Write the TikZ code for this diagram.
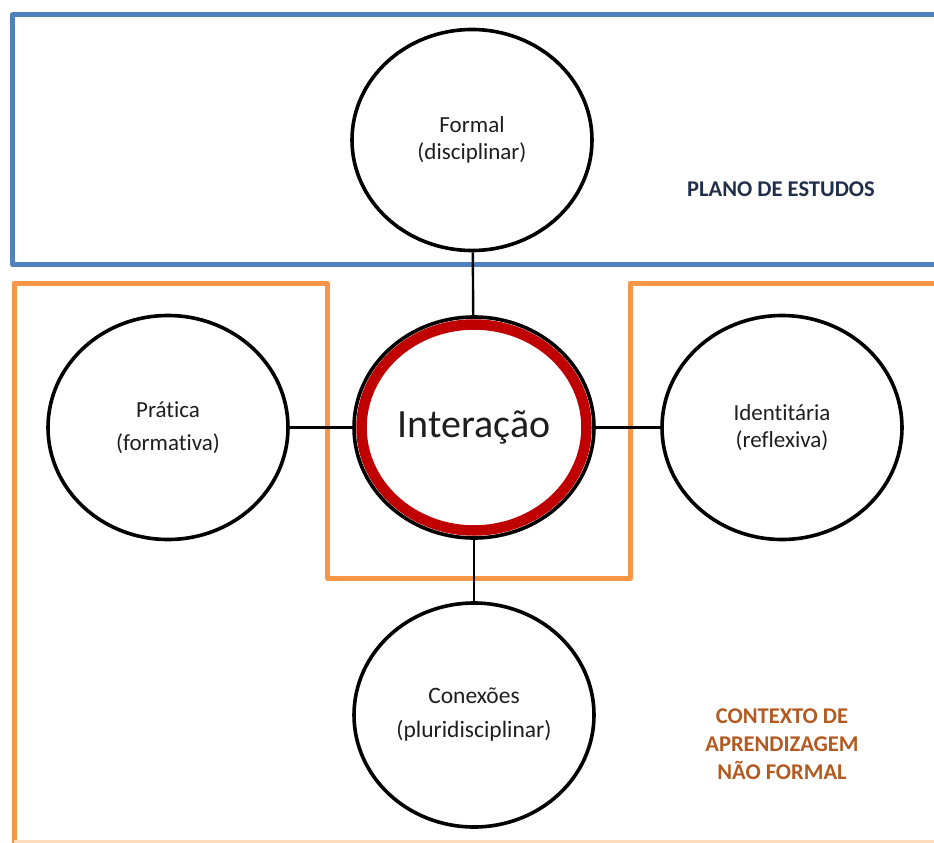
\documentclass[tikz,border=0pt]{standalone}
\usepackage{fontspec}
\setmainfont{Carlito}[Ligatures=NoCommon]
\usetikzlibrary{shapes.geometric}
\definecolor{boxblue}{HTML}{4F81BD}
\definecolor{boxorange}{HTML}{F79646}
\definecolor{ringred}{HTML}{C00000}
\definecolor{navytext}{HTML}{1F2F4A}
\definecolor{browntext}{HTML}{B35A22}
\definecolor{bodytext}{HTML}{1E1E1E}
\tikzset{
  bubble/.style={ellipse, draw=black, line width=3.6pt, fill=white, inner sep=0pt,
    minimum width=240pt, minimum height=224pt, align=center, text=bodytext,
    font=\fontsize{23}{27}\selectfont},
  conn/.style={draw=black, line width=2.4pt},
  bluebox/.style={draw=boxblue, line width=5pt, line join=round},
  orangebox/.style={draw=boxorange, line width=5pt, line join=round},
  label/.style={font=\bfseries\fontsize{22.5}{28}\selectfont, align=center, inner sep=0pt}
}
\begin{document}
\begin{tikzpicture}[x=1pt, y=-1pt]
\useasboundingbox (0,0) rectangle (934,843);
% regions
\draw[bluebox] (934,15) -- (12.5,15) -- (12.5,264.5) -- (934,264.5);
\draw[orangebox] (14,843) -- (14,283) -- (327,283) -- (327,578) -- (630,578) -- (630,283) -- (934,283);
\draw[draw=boxorange!35, line width=3pt] (14,841.5) -- (934,841.5);
% bubbles
\node[bubble, minimum height=221pt] (formal) at (472,140) {Formal\\(disciplinar)};
\node[bubble, minimum height=221pt, font=\fontsize{40}{44}\selectfont] (inter) at (474,427.5) {Interação};
\node[ellipse, draw=ringred, line width=10.5pt, inner sep=0pt, minimum width=225pt, minimum height=206pt] (ring) at (inter.center) {};
\node[bubble, font=\fontsize{23}{33}\selectfont] (prat) at (168,427.5) {Prática\\(formativa)};
\node[bubble, font=\fontsize{23}{26.5}\selectfont] (ident) at (782,427.5) {Identitária\\(reflexiva)};
\node[bubble, font=\fontsize{23.5}{34}\selectfont] (conex) at (474,715) {Conexões\\(pluridisciplinar)};
% connectors
\draw[conn] (formal) -- (inter);
\draw[conn] (prat) -- (inter);
\draw[conn] (inter) -- (ident);
\draw[conn] (inter) -- (conex);
% labels
\node[label, text=navytext] (plano) at (781,189) {PLANO DE ESTUDOS};
\node[label, text=browntext] (contexto) at (782,744) {CONTEXTO DE\\APRENDIZAGEM\\NÃO FORMAL};
\end{tikzpicture}
\end{document}
